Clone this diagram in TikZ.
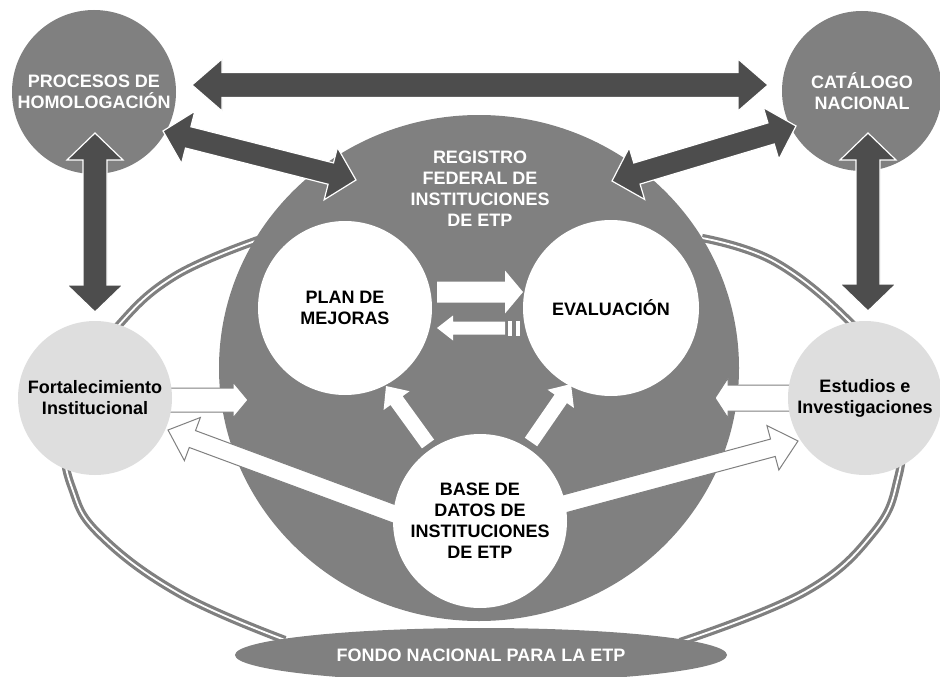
\documentclass[tikz,border=0pt]{standalone}
\usepackage{fontspec}
\setmainfont{Liberation Sans}
\usetikzlibrary{shapes.geometric}
\definecolor{midgray}{HTML}{808080}
\definecolor{darkgray}{HTML}{4D4D4D}
\definecolor{lightgray}{HTML}{DEDEDE}
% block arrow: #1 style, #2 from, #3 to, #4 shaft width, #5 head width, #6 head length, #7 heads (1 or 2)
\newcommand\blockarrow[7]{%
  \path (#2); \pgfgetlastxy{\bax}{\bay}%
  \path (#3); \pgfgetlastxy{\bbx}{\bby}%
  \pgfmathsetmacro\bang{atan2(\bby-\bay,\bbx-\bax)}%
  \pgfmathsetmacro\blen{veclen(\bbx-\bax,\bby-\bay)}%
  \begin{scope}[shift={(#2)},rotate=\bang]
  \ifnum#7=2\relax
    \path[#1] (0,0) -- (#6,#5/2) -- (#6,#4/2) -- (\blen-#6,#4/2) -- (\blen-#6,#5/2) -- (\blen,0)
      -- (\blen-#6,-#5/2) -- (\blen-#6,-#4/2) -- (#6,-#4/2) -- (#6,-#5/2) -- cycle;
  \else
    \path[#1] (0,#4/2) -- (\blen-#6,#4/2) -- (\blen-#6,#5/2) -- (\blen,0)
      -- (\blen-#6,-#5/2) -- (\blen-#6,-#4/2) -- (0,-#4/2) -- cycle;
  \fi
  \end{scope}}
\begin{document}
\begin{tikzpicture}[x=1pt,y=-1pt,
  lbl/.style={font=\fontsize{18}{21}\selectfont\bfseries, align=center},
  darkcirc/.style={circle, fill=midgray, inner sep=0pt, text=white, lbl},
  lightcirc/.style={circle, fill=lightgray, inner sep=0pt, text=black, lbl},
  whitecirc/.style={circle, fill=white, inner sep=0pt, text=black, lbl},
  ringline/.style={draw=midgray, line width=3.2pt, double=white, double distance=1.8pt},
  darkarrow/.style={fill=darkgray, draw=white, line width=1.2pt, line join=miter},
  whitearrow/.style={fill=white, draw=midgray, line width=1pt, line join=miter},
  innerarrow/.style={fill=white},
]
\useasboundingbox (0,0) rectangle (940,677);
\fill[white] (0,0) rectangle (940,677);

% outer ring (two arcs)
\draw[ringline] plot[smooth, tension=0.7] coordinates {(258,240) (175,276) (118,326) (78,385) (65,440) (72,488) (100,535) (180,594) (285,640)};
\draw[ringline] plot[smooth, tension=0.7] coordinates {(702,238) (775,262) (850,322) (885,372) (900,430) (898,478) (874,532) (805,592) (680,642)};

% central registry
\node[ellipse, fill=midgray, minimum width=520pt, minimum height=506pt, inner sep=0pt] (reg) at (479,368) {};
\node[lbl, text=white] (regtxt) at (480,189) {REGISTRO\\FEDERAL DE\\INSTITUCIONES\\DE ETP};

% fund
\node[ellipse, fill=midgray, minimum width=492pt, minimum height=54pt, inner sep=0pt, text=white, lbl] (fondo) at (481,655) {FONDO NACIONAL PARA LA ETP};

% outlined white arrows (tails hidden under circles)
\coordinate (f1) at (165,400); \coordinate (f2) at (248,400);
\coordinate (e1) at (796,398); \coordinate (e2) at (715,398);
\coordinate (b1) at (400,516); \coordinate (b2) at (168,430);
\coordinate (b3) at (560,505); \coordinate (b4) at (798,441);
\blockarrow{whitearrow}{f1}{f2}{24}{36}{15}{1}
\blockarrow{whitearrow}{e1}{e2}{26}{40}{13}{1}
\blockarrow{whitearrow}{b1}{b2}{18}{46}{26}{1}
\blockarrow{whitearrow}{b3}{b4}{18}{46}{26}{1}

% outer circles
\node[darkcirc, minimum size=164pt] (proc) at (94,92) {PROCESOS DE\\HOMOLOGACIÓN};
\node[darkcirc, minimum size=160pt] (cat) at (862,91) {CATÁLOGO\\NACIONAL};
\node[lightcirc, minimum size=154pt] (fort) at (95,398) {Fortalecimiento\\Institucional};
\node[lightcirc, minimum size=154pt] (est) at (865,398) {Estudios e\\Investigaciones};

% inner white circles
\node[whitecirc, minimum size=174pt] (plan) at (345,308) {PLAN DE\\MEJORAS};
\node[whitecirc, minimum size=176pt] (eval) at (611,308) {EVALUACIÓN};
\node[whitecirc, minimum size=174pt] (base) at (480,521) {BASE DE\\DATOS DE\\INSTITUCIONES\\DE ETP};

% dark double arrows
\coordinate (t1) at (192,85); \coordinate (t2) at (768,85);
\coordinate (p1) at (163,131); \coordinate (p2) at (356,180);
\coordinate (c1) at (796,126); \coordinate (c2) at (612,181);
\coordinate (v1) at (95,133); \coordinate (v2) at (95,312);
\coordinate (w1) at (868,133); \coordinate (w2) at (868,311);
\blockarrow{darkarrow}{t1}{t2}{25}{52}{30}{2}
\blockarrow{darkarrow}{p1}{p2}{22}{54}{26}{2}
\blockarrow{darkarrow}{c1}{c2}{22}{54}{26}{2}
\blockarrow{darkarrow}{v1}{v2}{24}{56}{27}{2}
\blockarrow{darkarrow}{w1}{w2}{24}{56}{27}{2}

% inner white arrows
\coordinate (b5) at (428,444); \coordinate (b6) at (386,386);
\coordinate (b7) at (531,442); \coordinate (b8) at (571,384);
\coordinate (m1) at (437,292); \coordinate (m2) at (523,292);
\coordinate (m3) at (505,328); \coordinate (m4) at (437,328);
\blockarrow{innerarrow}{b5}{b6}{15}{32}{18}{1}
\blockarrow{innerarrow}{b7}{b8}{15}{32}{18}{1}
\blockarrow{innerarrow}{m1}{m2}{21}{43}{18}{1}
\blockarrow{innerarrow}{m3}{m4}{13}{25}{16}{1}
\fill[white] (508,321) rectangle (512,336);
\fill[white] (516,321) rectangle (520,336);
\end{tikzpicture}
\end{document}
